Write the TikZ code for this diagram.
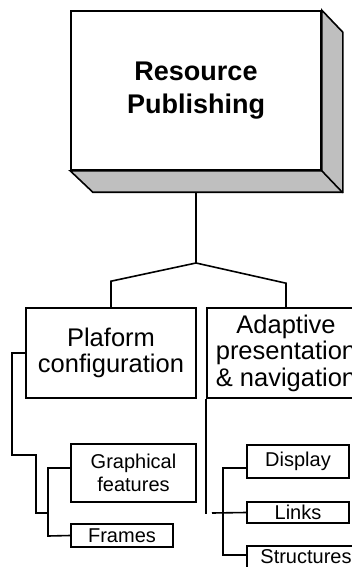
\documentclass[tikz,border=0pt]{standalone}
\usepackage{fontspec}
\setmainfont{Liberation Sans}
\usepackage{tikz}
\usetikzlibrary{calc}
\tikzstyle{big}=[fill=white, draw=black, shape=rectangle, line width=1.6pt, inner sep=0pt, align=center, font=\fontsize{27}{33}\selectfont\bfseries]
\tikzstyle{mid}=[fill=white, draw=black, shape=rectangle, line width=1.6pt, inner sep=0pt, align=center, font=\fontsize{25.5}{26.5}\selectfont]
\tikzstyle{sml}=[fill=white, draw=black, shape=rectangle, line width=1.6pt, inner sep=0pt, align=center, font=\fontsize{20}{23}\selectfont]
\tikzstyle{shd}=[fill=black!25, draw=black, line width=1.6pt]
\tikzstyle{con}=[draw=black, line width=1.6pt]

\begin{document}
\begin{tikzpicture}[x=1pt, y=1pt]
		\useasboundingbox (0,0) rectangle (352,-567);

		\node[style=big, minimum width=250pt, minimum height=159pt] (1) at (196,-90.5) {Resource\\Publishing};
		\node[style=mid, minimum width=170pt, minimum height=90pt] (2) at (111,-353) {Plaform\\configuration};
		\node[style=mid, minimum width=158pt, minimum height=90pt] (3) at (286,-353) {Adaptive\\presentation\\\& navigation};
		\node[style=sml, minimum width=125pt, minimum height=58pt] (4) at (133.5,-473) {Graphical\\features};
		\node[style=sml, minimum width=102pt, minimum height=23pt] (5) at (122,-535.5) {Frames};
		\node[style=sml, minimum width=102pt, minimum height=33pt] (6) at (298,-461.5) {Display};
		\node[style=sml, minimum width=102pt, minimum height=21pt] (7) at (298,-512.5) {Links};
		\node[style=sml, minimum width=118pt, minimum height=22pt] (8) at (306,-557) {Structures};

		% bevel of the top box
		\filldraw[style=shd] (1.north east) -- ++(21,-22) -- ++(0,-160) -- ++(-250,0) -- (1.south west) -- (1.south east) -- cycle;
		\draw[style=con] (1.south east) -- ++(21,-22);

		\coordinate (j) at (196,-263);
		\draw[style=con] ($(1.south)+(0,-22)$) -- (j);
		\draw[style=con] (j) -- ($(2.north)+(0,26)$) -- (2.north);
		\draw[style=con] (j) -- ($(3.north)+(0,24)$) -- (3.north);

		\coordinate (k1) at (48,-468);
		\coordinate (k2) at (48,-536);
		\draw[style=con] (2.west) -- ++(-13,0) -- ++(0,-102) -- ++(24,0) -- ++(0,-58) -- ++(11,0);
		\draw[style=con] (k1 -| 4.west) -- (k1) -- (k2) -- (5.west);

		\coordinate (m0) at (212,-513);
		\coordinate (m1) at (223,-468);
		\coordinate (m2) at (223,-555);
		\draw[style=con] (3.south west) -- ++(0,-115);
		\draw[style=con] (m0) -- (7.west);
		\draw[style=con] (m1 -| 6.west) -- (m1) -- (m2) -- (m2 -| 8.west);
	\end{tikzpicture}
\end{document}
